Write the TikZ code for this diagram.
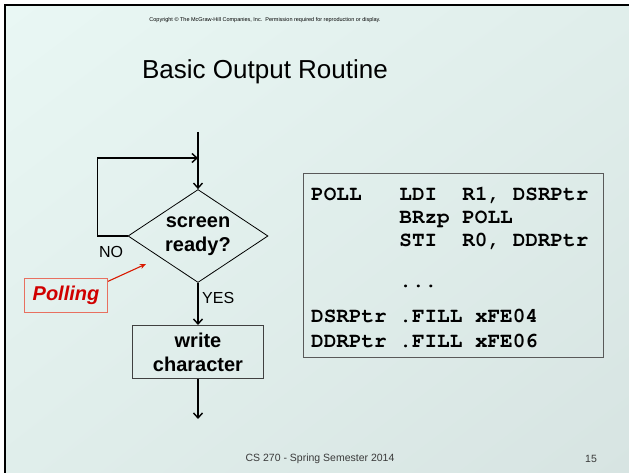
\documentclass[tikz,border=0pt]{standalone}
\usepackage{fontspec}
\setmainfont{Liberation Sans}
\newcommand\codefont{\fontencoding{T1}\fontfamily{pcr}\fontseries{b}\selectfont}
\usetikzlibrary{arrows.meta}
\usetikzlibrary{shapes.geometric}
\usetikzlibrary{shadings}

\definecolor{bgtop}{HTML}{E9F7F4}
\definecolor{bgmid}{HTML}{E0EEEB}
\definecolor{bgbot}{HTML}{D7E4E2}
\definecolor{pollred}{HTML}{D00000}
\definecolor{pollframe}{HTML}{E87060}
\definecolor{footgray}{HTML}{3A3A3A}

\begin{document}
\begin{tikzpicture}[x=1pt,y=-1pt]
  \tikzset{decision/.style = {shape=diamond,draw,line width=0.8pt,aspect=1.5,inner sep=0pt,
      minimum width=140pt,minimum height=93pt,align=center,font=\fontsize{20}{24}\selectfont\bfseries}}
  \tikzset{process/.style = {shape=rectangle,draw=black!75,line width=1pt,minimum width=131pt,
      minimum height=53pt,inner sep=0pt,align=center,font=\fontsize{20}{24}\selectfont\bfseries}}
  \tikzset{flow/.style = {line width=1.4pt,-{Straight Barb[length=5pt,width=9pt,line width=1.4pt]}}}
  \tikzset{lbl/.style = {inner sep=0pt,font=\fontsize{16}{18}\selectfont}}
  \tikzset{pollbox/.style = {draw=pollframe,line width=0.9pt,text=pollred,minimum width=83pt,
      minimum height=34pt,inner sep=0pt,font=\fontsize{20}{24}\selectfont\bfseries\itshape}}
  \tikzset{pollarrow/.style = {draw=pollred!80!orange,line width=1.1pt,-{Stealth[length=6pt,width=5pt]}}}
  \tikzset{codebox/.style = {draw=black!65,line width=0.9pt,minimum width=300pt,minimum height=184pt,inner sep=0pt}}
  \tikzset{codeline/.style = {anchor=base west,inner sep=0pt,font=\fontsize{21}{24}\codefont}}

  % slide background
  \useasboundingbox (0,0) rectangle (629,473);
  \fill[white] (0,0) rectangle (629,473);
  \shade[upper left=bgtop,upper right=bgmid,lower left=bgmid,lower right=bgbot] (5,5) rectangle (629,473);
  \draw[line width=2.6pt] (5,473) -- (5,5) -- (629,5);

	\node[inner sep=0pt,font=\fontsize{5.5}{6}\selectfont] (copy) at (265,20)
	  {Copyright \textcopyright\ The McGraw-Hill Companies, Inc.\ \ Permission required for reproduction or display.};
	\node[inner sep=0pt,font=\fontsize{26}{30}\selectfont] (title) at (265,72) {Basic Output Routine};

	% flowchart
	\coordinate (top) at (198,132);
	\coordinate (join) at (198,158);
	\coordinate (bottom) at (198,419);
	\node[decision] (ready) at (198,236) {screen\\ready?};
	\node[process] (write) at (198,352) {write\\character};
	\node[lbl] (no) at (111,252) {NO};
	\node[lbl,anchor=west] (yes) at (202,298) {YES};

	\draw[flow] (top) -- (ready.north);
	\draw[flow] (ready.west) -- ++(-30,0) |- (join);
	\draw[flow] (ready.south) -- (write.north);
	\draw[flow] (write.south) -- (bottom);

	\node[pollbox] (poll) at (66,295) {Polling};
	\coordinate (pollhit) at (146,264);
	\draw[pollarrow] (poll.18) -- (pollhit);

	% program
	\node[codebox] (code) at (453,265) {};
	\node[codeline] (l1) at (311,201) {POLL\ \ \ LDI\ \ R1,\ DSRPtr};
	\node[codeline] (l2) at (311,224) {\ \ \ \ \ \ \ BRzp\ POLL};
	\node[codeline] (l3) at (311,247) {\ \ \ \ \ \ \ STI\ \ R0,\ DDRPtr};
	\node[codeline] (l4) at (311,287) {\ \ \ \ \ \ \ ...};
	\node[codeline] (l5) at (311,322) {DSRPtr\ .FILL\ xFE04};
	\node[codeline] (l6) at (311,347) {DDRPtr\ .FILL\ xFE06};

	% footer
	\node[inner sep=0pt,text=footgray,font=\fontsize{10.5}{12}\selectfont] (foot) at (320,459) {CS 270 - Spring Semester 2014};
	\node[inner sep=0pt,text=footgray,font=\fontsize{10.5}{12}\selectfont] (page) at (591,459) {15};
\end{tikzpicture}
\end{document}
